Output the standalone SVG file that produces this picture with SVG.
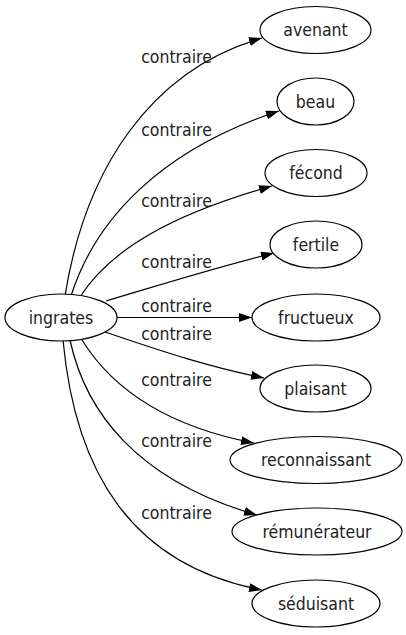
<svg xmlns="http://www.w3.org/2000/svg" width="406" height="635" viewBox="0 0 406 635">
<style>
.node ellipse{fill:#fff;stroke:#000;stroke-width:1.2}
text{font-family:"DejaVu Sans Condensed","DejaVu Sans",sans-serif;font-stretch:condensed;font-size:17.5px;fill:#222;text-anchor:middle}
.edges path{fill:none;stroke:#000;stroke-width:1.2;marker-end:url(#arr)}
</style>
<defs>
<marker id="arr" markerUnits="userSpaceOnUse" markerWidth="14" markerHeight="10" refX="13" refY="4.5" orient="auto"><path d="M0,0 L13,4.5 L0,9 Z" fill="#000"/></marker>
</defs>
<rect width="406" height="635" fill="#fff"/>
<g class="edges" id="connectors">
<path d="M65,296 C85,170 150,70 262,38"/>
<path d="M71,296 C95,220 160,150 279,111"/>
<path d="M80,297 C110,250 170,215 272,186"/>
<path d="M106,301 C150,288 210,269 274,253"/>
<path d="M117,317.5 L252,317.5"/>
<path d="M105,332 C150,347 200,365 264,378"/>
<path d="M82,340 C110,385 160,425 254,443"/>
<path d="M70,340 C85,410 135,480 257,515"/>
<path d="M63,340 C75,470 130,565 262,590"/>
</g>
<g id="labels">
<text x="176.5" y="63">contraire</text>
<text x="176.5" y="136">contraire</text>
<text x="176.5" y="206.5">contraire</text>
<text x="176.5" y="268">contraire</text>
<text x="176.5" y="311.5">contraire</text>
<text x="176.5" y="340">contraire</text>
<text x="176.5" y="385.5">contraire</text>
<text x="176.5" y="446.5">contraire</text>
<text x="176.5" y="518.5">contraire</text>
</g>
<g class="node" id="ingrates"><ellipse cx="61" cy="317.5" rx="56" ry="23.5"/><text x="61" y="323.5">ingrates</text></g>
<g class="node" id="avenant"><ellipse cx="315.5" cy="30" rx="55.5" ry="23.5"/><text x="315.5" y="36">avenant</text></g>
<g class="node" id="beau"><ellipse cx="315.5" cy="101.5" rx="38.5" ry="23.5"/><text x="315.5" y="107.5">beau</text></g>
<g class="node" id="fecond"><ellipse cx="316" cy="173" rx="51" ry="23.5"/><text x="316" y="179">fécond</text></g>
<g class="node" id="fertile"><ellipse cx="316" cy="244.5" rx="46" ry="23.5"/><text x="316" y="250.5">fertile</text></g>
<g class="node" id="fructueux"><ellipse cx="316" cy="317.5" rx="64" ry="23.5"/><text x="316" y="323.5">fructueux</text></g>
<g class="node" id="plaisant"><ellipse cx="315.5" cy="388.5" rx="55.5" ry="23.5"/><text x="315.5" y="394.5">plaisant</text></g>
<g class="node" id="reconnaissant"><ellipse cx="316" cy="460" rx="86" ry="23.5"/><text x="316" y="466">reconnaissant</text></g>
<g class="node" id="remunerateur"><ellipse cx="317" cy="531.5" rx="85" ry="23.5"/><text x="317" y="537.5">rémunérateur</text></g>
<g class="node" id="seduisant"><ellipse cx="316" cy="603.5" rx="64" ry="23.5"/><text x="316" y="609.5">séduisant</text></g>
</svg>
